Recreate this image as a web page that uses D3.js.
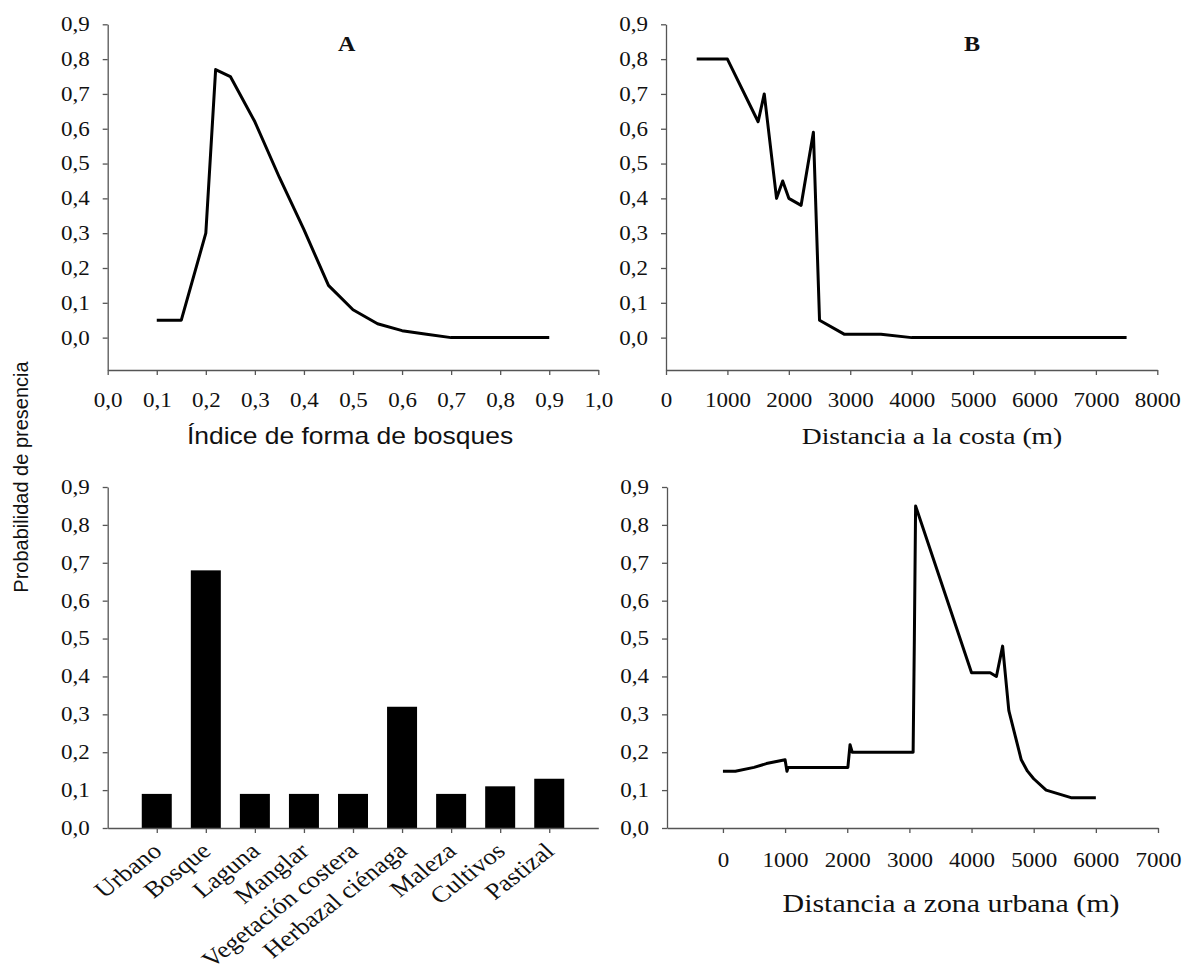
<!DOCTYPE html>
<html>
    <head>
        <script src="https://cdn.jsdelivr.net/npm/d3@7"></script>
        <title>Probabilidad de presencia</title>
    </head>
    <style>
        body { margin: 0; background: #fff; }
        .serif { font-family: "Liberation Serif", "Times New Roman", Times, serif; }
        .sans { font-family: "Liberation Sans", Arial, Helvetica, sans-serif; }
    </style>
    <body></body>

    <script>

        ////////////////////////
        ////// DATA ////////////
        ////////////////////////

        // A - indice de forma de bosques
        var shapeIndex = [0.1, 0.15, 0.2, 0.22, 0.25, 0.3, 0.35, 0.4, 0.45, 0.5, 0.55, 0.6, 0.65, 0.7, 0.75, 0.8, 0.85, 0.9];
        var shapeProb  = [0.05, 0.05, 0.30, 0.77, 0.75, 0.62, 0.46, 0.31, 0.15, 0.08, 0.04, 0.02, 0.01, 0.0, 0.0, 0.0, 0.0, 0.0];

        // B - distancia a la costa
        var coastDist = [500, 1000, 1500, 1600, 1800, 1900, 2000, 2200, 2400, 2500, 2900, 3500, 4000, 7500];
        var coastProb = [0.80, 0.80, 0.62, 0.70, 0.40, 0.45, 0.40, 0.38, 0.59, 0.05, 0.01, 0.01, 0.0, 0.0];

        // tipos de cobertura
        var coverTypes = ["Urbano", "Bosque", "Laguna", "Manglar", "Vegetación costera", "Herbazal ciénaga", "Maleza", "Cultivos", "Pastizal"];
        var coverProb  = [0.09, 0.68, 0.09, 0.09, 0.09, 0.32, 0.09, 0.11, 0.13];

        // distancia a zona urbana
        var urbanDist = [0, 200, 500, 700, 1000, 1030, 1050, 2010, 2045, 2080, 3060, 3080, 3100, 4000, 4300, 4400, 4500, 4600, 4800, 4900, 5000, 5200, 5600, 6000];
        var urbanProb = [0.15, 0.15, 0.16, 0.17, 0.18, 0.15, 0.16, 0.16, 0.22, 0.20, 0.20, 0.50, 0.85, 0.41, 0.41, 0.40, 0.48, 0.31, 0.18, 0.15, 0.13, 0.10, 0.08, 0.08];

        // tick values
        var probTicks  = [0, 0.1, 0.2, 0.3, 0.4, 0.5, 0.6, 0.7, 0.8, 0.9];
        var shapeTicks = [0, 0.1, 0.2, 0.3, 0.4, 0.5, 0.6, 0.7, 0.8, 0.9, 1.0];
        var coastTicks = [0, 1000, 2000, 3000, 4000, 5000, 6000, 7000, 8000];
        var urbanTicks = [0, 1000, 2000, 3000, 4000, 5000, 6000, 7000];

        ////////////////////////
        ////// SETUP ///////////
        ////////////////////////

        var width = 1186;
        var height = 972;
        var stretch = "scale(1.15,1)";   // the original picture is a bit wide

        var svg = d3.select("body")
                    .append("svg")
                    .attr("width", width)
                    .attr("height", height);

        var comma = function(d){
            return d.toFixed(1).replace(".", ",");
        };

        // scales top row
        var yTop = d3.scaleLinear()
                    .domain([-0.093, 0.9])
                    .range([370, 24.3]);

        var xShape = d3.scaleLinear()
                    .domain([0, 1])
                    .range([107.7, 598.3]);

        var xCoast = d3.scaleLinear()
                    .domain([0, 8000])
                    .range([666, 1157.3]);

        // scales bottom row
        var yBottom = d3.scaleLinear()
                    .domain([0, 0.9])
                    .range([828, 487]);

        var xCover = d3.scalePoint()
                    .domain(coverTypes)
                    .range([107.7, 598.3])
                    .padding(1);

        var xUrban = d3.scaleLinear()
                    .domain([-900, 7000])
                    .range([667, 1158]);

        function styleAxis(g){
            g.attr("font-family", null).attr("font-size", null);
            g.select(".domain").attr("stroke", "#555").attr("stroke-width", 1.3);
            g.selectAll(".tick line").attr("stroke", "#555").attr("stroke-width", 1.3);
            g.selectAll("text")
                .attr("class", "serif")
                .style("font-size", "20px")
                .attr("fill", "#111")
                .attr("transform", stretch);
        }

        function yAxisAt(x, scale){
            svg.append("g")
                .attr("transform", "translate(" + x + ",0)")
                .call(d3.axisLeft(scale)
                        .tickValues(probTicks)
                        .tickFormat(comma)
                        .tickSize(5)
                        .tickSizeOuter(0)
                        .tickPadding(10.6))
                .call(styleAxis);
        }

        function xAxisAt(y, scale, ticks, fmt, pad){
            svg.append("g")
                .attr("transform", "translate(0," + y + ")")
                .call(d3.axisBottom(scale)
                        .tickValues(ticks)
                        .tickFormat(fmt)
                        .tickSize(5)
                        .tickSizeOuter(0)
                        .tickPadding(pad))
                .call(styleAxis);
        }

        function drawLine(xs, ys, xScale, yScale){
            var pts = xs.map(function(d, i){ return [d, ys[i]]; });
            var line = d3.line()
                        .x(function(d){ return xScale(d[0]); })
                        .y(function(d){ return yScale(d[1]); });
            svg.append("path")
                .datum(pts)
                .attr("d", line)
                .attr("fill", "none")
                .attr("stroke", "#000")
                .attr("stroke-width", 3)
                .attr("stroke-linejoin", "round");
        }

        function label(x, y, txt, cls, size, weight){
            svg.append("text")
                .attr("class", cls)
                .attr("transform", "translate(" + x + "," + y + ") " + stretch)
                .attr("text-anchor", "middle")
                .style("font-size", size + "px")
                .style("font-weight", weight || "normal")
                .attr("fill", "#111")
                .text(txt);
        }

        ////////////////////////
        ////// PANEL A /////////
        ////////////////////////

        yAxisAt(xShape(0), yTop);
        xAxisAt(yTop(-0.093), xShape, shapeTicks, comma, 18);
        drawLine(shapeIndex, shapeProb, xShape, yTop);
        label(346.7, 50.7, "A", "serif", 21, "bold");
        label(350, 444, "Índice de forma de bosques", "sans", 23);

        ////////////////////////
        ////// PANEL B /////////
        ////////////////////////

        yAxisAt(xCoast(0), yTop);
        xAxisAt(yTop(-0.093), xCoast, coastTicks, d3.format("d"), 18);
        drawLine(coastDist, coastProb, xCoast, yTop);
        label(972, 51, "B", "serif", 21, "bold");
        label(932, 444, "Distancia a la costa (m)", "serif", 24);

        ////////////////////////
        ////// COBERTURA ///////
        ////////////////////////

        yAxisAt(107.7, yBottom);

        svg.selectAll("rect.bar")
            .data(coverTypes)
            .enter()
            .append("rect")
            .attr("class", "bar")
            .attr("x", function(d){ return xCover(d) - 15; })
            .attr("width", 30)
            .attr("y", function(d, i){ return yBottom(coverProb[i]); })
            .attr("height", function(d, i){ return yBottom(0) - yBottom(coverProb[i]); })
            .attr("fill", "#000");

        var catAxis = svg.append("g")
            .attr("transform", "translate(0," + yBottom(0) + ")")
            .call(d3.axisBottom(xCover).tickSize(5).tickSizeOuter(0))
            .call(styleAxis);

        // slanted category names, ending under each bar
        catAxis.selectAll("text")
            .attr("text-anchor", "end")
            .attr("x", 0)
            .attr("y", 0)
            .attr("dy", 0)
            .style("font-size", "23px")
            .attr("transform", "translate(6,25) " + stretch + " rotate(-42)");

        ////////////////////////
        ////// ZONA URBANA /////
        ////////////////////////

        yAxisAt(xUrban(-900), yBottom);
        xAxisAt(yBottom(0), xUrban, urbanTicks, d3.format("d"), 20);
        drawLine(urbanDist, urbanProb, xUrban, yBottom);
        label(951, 912, "Distancia a zona urbana (m)", "serif", 26);

        // y title shared by all panels
        svg.append("text")
            .attr("class", "sans")
            .attr("transform", "translate(28,477) rotate(-90)")
            .attr("text-anchor", "middle")
            .style("font-size", "20px")
            .attr("fill", "#111")
            .text("Probabilidad de presencia");

    </script>
</html>
